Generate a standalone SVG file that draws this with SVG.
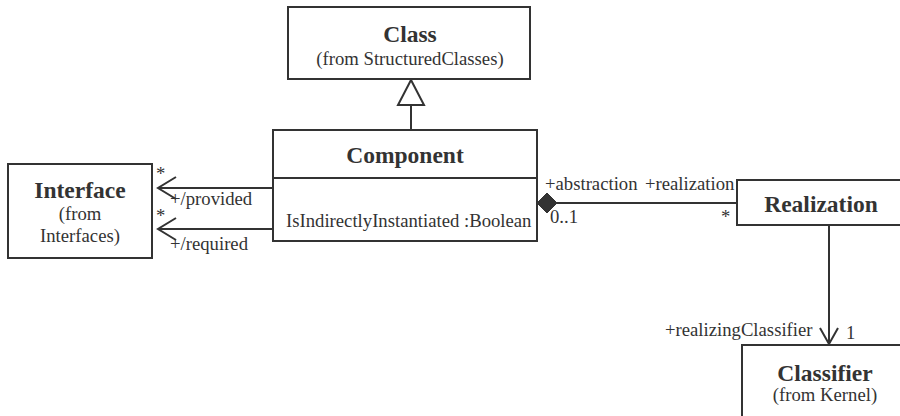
<svg xmlns="http://www.w3.org/2000/svg" width="900" height="416" viewBox="0 0 900 416">
<style>
.box{fill:#fff;stroke:#333;stroke-width:2}
.ln{fill:none;stroke:#333;stroke-width:2}
.t{font-family:"Liberation Serif","Times New Roman",serif;fill:#333;font-size:18.7px}
.b{font-family:"Liberation Serif","Times New Roman",serif;fill:#333;font-size:23.5px;font-weight:bold}
.m{text-anchor:middle}
</style>
<rect width="900" height="416" fill="#fff"/>
<g id="connectors">
<line class="ln" x1="411" y1="105" x2="411" y2="130"/>
<polygon class="box" points="411,80 398,105 424,105"/>
<line class="ln" x1="158" y1="188" x2="273" y2="188"/>
<polyline class="ln" points="176,177 158,188 176,199"/>
<line class="ln" x1="158" y1="229" x2="273" y2="229"/>
<polyline class="ln" points="176,218 158,229 176,240"/>
<line class="ln" x1="557" y1="203" x2="737" y2="203"/>
<polygon points="537,203 547,193 557,203 547,213" fill="#333" stroke="#333" stroke-width="1"/>
<line class="ln" x1="829" y1="226" x2="829" y2="344"/>
<polyline class="ln" points="820,328 829,344 838,328"/>
<text class="t" x="156" y="180">*</text>
<text class="t" x="170" y="205">+/provided</text>
<text class="t" x="156" y="222">*</text>
<text class="t" x="170" y="250">+/required</text>
<text class="t" x="545" y="190">+abstraction</text>
<text class="t" x="645" y="190">+realization</text>
<text class="t" x="550" y="223">0..1</text>
<text class="t" x="721" y="223">*</text>
<text class="t" x="665" y="336">+realizingClassifier</text>
<text class="t" x="846" y="339">1</text>
</g>
<g id="Class">
<rect class="box" x="288" y="7" width="242" height="72"/>
<text class="b m" x="410" y="42">Class</text>
<text class="t m" x="410" y="65">(from StructuredClasses)</text>
</g>
<g id="Component">
<rect class="box" x="273" y="130" width="264" height="111"/>
<line class="ln" x1="273" y1="178" x2="537" y2="178"/>
<text class="b m" x="405" y="163">Component</text>
<text class="t" x="286" y="227">IsIndirectlyInstantiated :Boolean</text>
</g>
<g id="Interface">
<rect class="box" x="8" y="164" width="144" height="94"/>
<text class="b m" x="80" y="198">Interface</text>
<text class="t m" x="80" y="220">(from</text>
<text class="t m" x="80" y="242">Interfaces)</text>
</g>
<g id="Realization">
<rect class="box" x="737" y="180" width="175" height="45"/>
<text class="b m" x="821" y="212">Realization</text>
</g>
<g id="Classifier">
<rect class="box" x="742" y="345" width="170" height="80"/>
<text class="b m" x="825" y="381">Classifier</text>
<text class="t m" x="825" y="401">(from Kernel)</text>
</g>
</svg>
